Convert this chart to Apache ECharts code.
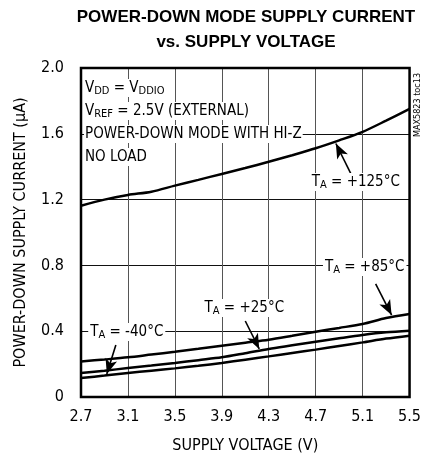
<!DOCTYPE html>
<html><head><meta charset="utf-8">
<script src="https://cdn.jsdelivr.net/npm/echarts@6/dist/echarts.min.js"></script>
<style>html,body{margin:0;padding:0;background:#fff}#c{width:424px;height:459px}</style>
</head><body><div id="c"></div>
<script>
const voltage = [2.7, 2.9, 3.1, 3.3, 3.5, 3.7, 3.9, 4.1, 4.3, 4.5, 4.7, 4.9, 5.1, 5.3, 5.5];
const t125 = [1.163, 1.200, 1.228, 1.248, 1.285, 1.320, 1.356, 1.392, 1.430, 1.470, 1.512, 1.560, 1.612, 1.680, 1.751];
const t85  = [0.216, 0.228, 0.241, 0.258, 0.275, 0.293, 0.312, 0.330, 0.348, 0.372, 0.397, 0.420, 0.444, 0.480, 0.505];
const t25  = [0.146, 0.160, 0.176, 0.191, 0.207, 0.224, 0.241, 0.266, 0.292, 0.314, 0.336, 0.357, 0.377, 0.393, 0.403];
const tm40 = [0.116, 0.130, 0.146, 0.160, 0.174, 0.190, 0.207, 0.227, 0.247, 0.268, 0.288, 0.310, 0.332, 0.355, 0.373];
const xTicks = ['2.7', '3.1', '3.5', '3.9', '4.3', '4.7', '5.1', '5.5'];
const yTicks = ['0', '0.4', '0.8', '1.2', '1.6', '2.0'];
const xStart = 2.7;

// annotation anchors in data coordinates: [label, labelX, labelY, arrowFromX, arrowFromY, arrowToX, arrowToY]
const notes = [
  ['+125°C', 5.042, 1.307, 5.01, 1.343, 4.872, 1.541],
  ['+85°C', 5.118, 0.790, 5.211, 0.687, 5.347, 0.498],
  ['+25°C', 4.092, 0.541, 4.10, 0.462, 4.219, 0.292],
  ['-40°C', 3.09, 0.395, 2.997, 0.316, 2.92, 0.14]
];
const infoLines = [
  ['V', 'DD', ' = V', 'DDIO'],
  ['V', 'REF', ' = 2.5V (EXTERNAL)'],
  ['POWER-DOWN MODE WITH HI-Z'],
  ['NO LOAD']
];

const FONT = '"Liberation Sans Narrow", "DejaVu Sans Condensed", sans-serif';
const chart = echarts.init(document.getElementById('c'), null, {renderer: 'canvas'});
const toXY = (arr) => voltage.map((v, i) => [+(v - xStart).toFixed(4), arr[i]]);
const lineSeries = (arr) => ({
  type: 'line', data: toXY(arr), symbol: 'none', smooth: 0.3,
  lineStyle: {color: '#000', width: 2.5}, z: 5, silent: true
});

const arrowSeries = {
  type: 'line', data: [], symbol: 'none', z: 6, silent: true,
  markLine: {
    silent: true, animation: false,
    symbol: ['none', 'arrow'], symbolSize: [9, 15],
    label: {show: false},
    lineStyle: {color: '#000', width: 1.6, type: 'solid'},
    emphasis: {disabled: true},
    data: notes.map(n => [{coord: [n[3] - xStart, n[4]]}, {coord: [n[5] - xStart, n[6]]}])
  }
};

chart.setOption({
  animation: false,
  backgroundColor: '#fff',
  title: {
    text: 'POWER-DOWN MODE SUPPLY CURRENT\nvs. SUPPLY VOLTAGE',
    left: 241, top: 0, textAlign: 'center',
    textStyle: {fontFamily: '"Liberation Sans", Arial, sans-serif', fontWeight: 'bold', fontSize: 17, lineHeight: 25, color: '#000'}
  },
  grid: {left: 81, right: 13, top: 68, bottom: 62, show: true, borderColor: '#000', borderWidth: 2.5, z: 10},
  xAxis: {
    type: 'value', min: 0, max: 2.8, interval: 0.4,
    name: 'SUPPLY VOLTAGE (V)', nameLocation: 'middle', nameGap: 41,
    nameTextStyle: {fontFamily: FONT, fontSize: 16, color: '#000'},
    axisLine: {show: false}, axisTick: {show: false},
    axisLabel: {margin: 12, fontFamily: FONT, fontSize: 16, color: '#000',
      formatter: (v) => xTicks[Math.round(v / 0.4)]},
    splitLine: {show: true, lineStyle: {color: '#555', width: 1}}
  },
  yAxis: {
    type: 'value', min: 0, max: 2, interval: 0.4,
    name: 'POWER-DOWN SUPPLY CURRENT (µA)', nameLocation: 'middle', nameGap: 52,
    nameTextStyle: {fontFamily: FONT, fontSize: 16, color: '#000'},
    axisLine: {show: false}, axisTick: {show: false},
    axisLabel: {margin: 17, fontFamily: FONT, fontSize: 16, color: '#000',
      formatter: (v) => yTicks[Math.round(v / 0.4)]},
    splitLine: {show: true, lineStyle: {color: '#111', width: 1}}
  },
  series: [lineSeries(t125), lineSeries(t85), lineSeries(t25), lineSeries(tm40), arrowSeries]
});

const rich = {
  n: {fontFamily: FONT, fontSize: 15, color: '#000', lineHeight: 18, verticalAlign: 'middle'},
  s: {fontFamily: FONT, fontSize: 11, color: '#000', lineHeight: 11, verticalAlign: 'bottom'}
};
const graphics = [];
notes.forEach(n => {
  const p = chart.convertToPixel({gridIndex: 0}, [n[1] - xStart, n[2]]);
  graphics.push({
    type: 'text', x: p[0], y: p[1], z: 20,
    style: {text: '{n|T}{s|A}{n| = ' + n[0] + '}', rich: rich, align: 'center', verticalAlign: 'middle',
      backgroundColor: '#fff', padding: [0, 2, 0, 2]}
  });
});
const tl = chart.convertToPixel({gridIndex: 0}, [0, 2]);
infoLines.forEach((parts, i) => {
  const txt = parts.map((s, j) => (j % 2 === 0 ? '{n|' : '{s|') + s + '}').join('');
  graphics.push({
    type: 'text', x: tl[0] + 3, y: tl[1] + 20 + i * 23, z: 20,
    style: {text: txt, rich: rich, align: 'left', verticalAlign: 'middle', backgroundColor: '#fff', padding: [0, 1, 0, 1]}
  });
});
graphics.push({
  type: 'text', x: 418, y: 105, rotation: Math.PI / 2, z: 20,
  style: {text: 'MAX5823 toc13', fontFamily: FONT, fontSize: 9, fill: '#000', align: 'center', verticalAlign: 'middle'}
});
chart.setOption({graphic: graphics});
</script></body></html>
